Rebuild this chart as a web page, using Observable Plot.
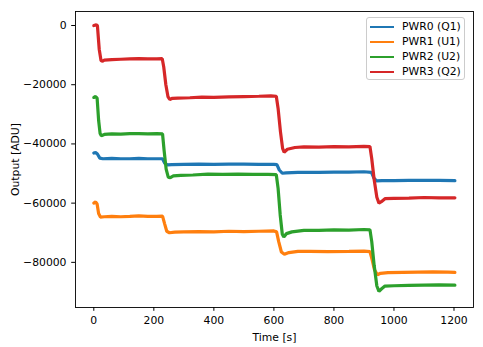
<!DOCTYPE html>
<html><head><meta charset="utf-8">
<script src="https://cdn.jsdelivr.net/npm/d3@7"></script>
<script src="https://cdn.jsdelivr.net/npm/@observablehq/plot@0.6"></script>
<style>
body{margin:0;background:#fff;font-family:"DejaVu Sans",sans-serif;}
#wrap{position:relative;width:483px;height:347px;}
#legend{position:absolute;left:366px;top:17px;width:99px;height:63px;border:1px solid #cccccc;border-radius:3px;background:rgba(255,255,255,0.8);font-size:10.8px;color:#000;box-sizing:border-box;}
.item{position:absolute;left:0;height:15px;width:100%;}
.item .sw{position:absolute;left:3px;top:7px;width:24px;height:2px;}
.item .lb{position:absolute;left:35px;top:0;line-height:15px;white-space:nowrap;}
</style></head>
<body><div id="wrap"><div id="legend"></div></div>
<script>
const seriesNames = ["PWR0 (Q1)", "PWR1 (U1)", "PWR2 (U2)", "PWR3 (Q2)"];
const colors = ["#1f77b4", "#ff7f0e", "#2ca02c", "#d62728"];
const xTicks = [0, 200, 400, 600, 800, 1000, 1200];
const yTicks = [0, -20000, -40000, -60000, -80000];

const pwr0 = [[0,-43100],[6,-42900],[12,-43400],[20,-44800],[30,-45000],[60,-44900],[90,-45000],[120,-45000],[150,-44900],[180,-45000],[210,-45000],[229,-45000],[236,-46500],[245,-47100],[260,-47000],[300,-46900],[350,-46800],[400,-46900],[450,-46800],[500,-46800],[550,-46900],[600,-46900],[610,-47000],[618,-48800],[628,-49900],[640,-49800],[680,-49600],[750,-49600],[800,-49500],[850,-49500],[900,-49400],[925,-49600],[933,-51500],[942,-52500],[960,-52400],[1000,-52400],[1050,-52300],[1100,-52300],[1150,-52300],[1203,-52400]];
const pwr1 = [[0,-60000],[6,-59600],[11,-60300],[16,-63500],[22,-64700],[35,-64600],[60,-64500],[90,-64600],[120,-64500],[150,-64300],[180,-64500],[210,-64500],[229,-64400],[236,-67000],[243,-69500],[252,-70000],[270,-69800],[300,-69700],[350,-69600],[400,-69700],[450,-69500],[500,-69600],[550,-69500],[600,-69400],[609,-69700],[616,-73000],[625,-76500],[635,-77300],[650,-76700],[680,-76300],[720,-76300],[780,-76400],[850,-76300],[900,-76200],[920,-76400],[927,-79000],[935,-82500],[945,-84200],[955,-83700],[980,-83500],[1030,-83400],[1080,-83300],[1130,-83200],[1180,-83300],[1203,-83400]];
const pwr2 = [[0,-24300],[6,-24000],[11,-24500],[16,-32000],[21,-36500],[25,-37200],[35,-36800],[60,-36600],[90,-36700],[120,-36500],[150,-36500],[180,-36600],[210,-36500],[229,-36600],[234,-42000],[241,-48500],[248,-51200],[255,-51400],[265,-50800],[290,-50600],[330,-50500],[380,-50200],[430,-50300],[480,-50200],[530,-50300],[580,-50300],[608,-50400],[614,-55000],[621,-64000],[628,-70500],[633,-71400],[642,-70300],[660,-69700],[700,-69200],[750,-69200],[800,-69000],[850,-69100],[900,-68900],[920,-69000],[926,-73000],[934,-81000],[943,-88000],[950,-89800],[958,-89000],[970,-88000],[1000,-87900],[1050,-87800],[1100,-87700],[1150,-87600],[1203,-87700]];
const pwr3 = [[0,0],[8,200],[12,0],[18,-8000],[24,-11800],[28,-12100],[35,-11700],[60,-11500],[90,-11400],[120,-11300],[150,-11200],[180,-11300],[210,-11300],[228,-11200],[233,-14000],[240,-20000],[247,-24000],[253,-25000],[262,-24600],[280,-24500],[320,-24400],[360,-24200],[400,-24300],[450,-24100],[500,-24000],[550,-23900],[590,-23800],[608,-23900],[614,-28000],[622,-36000],[629,-41500],[634,-42800],[645,-41800],[670,-41200],[700,-41000],[750,-41100],[800,-40900],[850,-41000],[900,-40800],[920,-40900],[926,-45000],[934,-52000],[943,-58000],[950,-60000],[958,-59500],[970,-58500],[1000,-58400],[1050,-58300],[1100,-58100],[1150,-58200],[1203,-58200]];

const allSeries = [pwr0, pwr1, pwr2, pwr3];
const rows = allSeries.flatMap((s, i) => s.map(([t, v]) => ({t, v, name: seriesNames[i]})));

const fmt = d3.format("d");
const chart = Plot.plot({
  width: 483, height: 347,
  marginLeft: 75, marginTop: 11, marginRight: 10, marginBottom: 40,
  style: {fontFamily: "DejaVu Sans", fontSize: "10.8px", color: "#000", background: "#fff"},
  x: {domain: [-61, 1265], ticks: xTicks, tickFormat: fmt, tickSize: 3.8, tickPadding: 3, label: "Time [s]", labelAnchor: "center", labelArrow: "none", labelOffset: 33},
  y: {domain: [-95250, 4730], ticks: yTicks, tickFormat: fmt, tickSize: 3.8, tickPadding: 3, label: "Output [ADU]", labelAnchor: "center", labelArrow: "none", labelOffset: 64},
  color: {domain: seriesNames, range: colors},
  marks: [
    Plot.line(rows, {x: "t", y: "v", z: "name", stroke: "name", strokeWidth: 3.2, strokeLinejoin: "miter"}),
    Plot.frame({stroke: "#000", strokeWidth: 0.9}),
    Plot.axisX({ticks: xTicks, tickFormat: fmt, tickSize: 3.8, label: "Time [s]", labelAnchor: "center", labelArrow: "none", labelOffset: 33}),
    Plot.axisY({ticks: yTicks, tickFormat: fmt, tickSize: 3.8, label: "Output [ADU]", labelAnchor: "center", labelArrow: "none", labelOffset: 64})
  ]
});
const wrap = document.getElementById("wrap");
wrap.insertBefore(chart, wrap.firstChild);

const legend = document.getElementById("legend");
seriesNames.forEach((n, i) => {
  const it = document.createElement("div");
  it.className = "item";
  it.style.top = (1 + i * 15) + "px";
  it.innerHTML = `<span class="sw" style="background:${colors[i]}"></span><span class="lb">${n}</span>`;
  legend.appendChild(it);
});
</script></body></html>
